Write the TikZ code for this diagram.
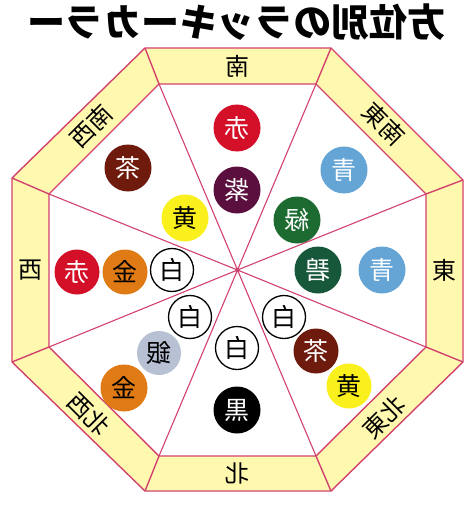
\documentclass[tikz,border=0pt]{standalone}
\usepackage{graphicx}
\usepackage{fontspec}
\newfontfamily\cjk{Noto Sans CJK JP}
\newcommand{\mirr}[1]{\reflectbox{#1}}
\definecolor{bandy}{HTML}{FFF9B0}
\definecolor{edgec}{HTML}{D2426E}
\definecolor{cred}{HTML}{D40F28}
\definecolor{cpurple}{HTML}{5B0F3F}
\definecolor{cbrown}{HTML}{6E1A0C}
\definecolor{cyellow}{HTML}{FAF01E}
\definecolor{cblue}{HTML}{64A5D6}
\definecolor{cgreen}{HTML}{1E6B32}
\definecolor{cdgreen}{HTML}{17573A}
\definecolor{corange}{HTML}{E07A14}
\definecolor{csilver}{HTML}{B8C0D4}
\begin{document}
\begin{tikzpicture}[x=1pt,y=-1pt,
  edge/.style={draw=edgec, line width=1.4pt, line join=round},
  ray/.style={draw=edgec, line width=1.1pt},
  ball/.style={circle, minimum size=47pt, inner sep=0pt, font=\cjk\fontsize{25}{25}\selectfont},
  wball/.style={ball, minimum size=43pt, draw=black, line width=1.3pt, fill=white, text=black},
  dirlab/.style={font=\cjk\fontsize{24}{24}\selectfont, inner sep=0pt}]
\useasboundingbox (0,0) rectangle (474,508);
% outer octagon
\coordinate (O1) at (145,48);
\coordinate (O2) at (331,48);
\coordinate (O3) at (463,180);
\coordinate (O4) at (463,362);
\coordinate (O5) at (331,491);
\coordinate (O6) at (145,491);
\coordinate (O7) at (12,362);
\coordinate (O8) at (12,178);
% inner octagon
\coordinate (I1) at (159,84);
\coordinate (I2) at (316,84);
\coordinate (I3) at (426,194);
\coordinate (I4) at (426,347);
\coordinate (I5) at (316,456);
\coordinate (I6) at (159,456);
\coordinate (I7) at (49,347);
\coordinate (I8) at (49,194);
\coordinate (C) at (237.5,270);
\fill[bandy] (O1)--(O2)--(O3)--(O4)--(O5)--(O6)--(O7)--(O8)--cycle;
\fill[white] (I1)--(I2)--(I3)--(I4)--(I5)--(I6)--(I7)--(I8)--cycle;
\foreach \i in {1,...,8} {\draw[ray] (C)--(I\i);}
\foreach \i in {1,...,8} {\draw[edge] (O\i)--(I\i);}
\draw[edge] (O1)--(O2)--(O3)--(O4)--(O5)--(O6)--(O7)--(O8)--cycle;
\draw[edge] (I1)--(I2)--(I3)--(I4)--(I5)--(I6)--(I7)--(I8)--cycle;
\fill[edgec] (C) circle (2.2pt);
% title
\node (title) at (236,22) {\cjk\bfseries\fontsize{38}{38}\selectfont\mirr{方位別のラッキーカラー}};
% direction labels
\node[dirlab] (s) at (237,66) {\mirr{南}};
\node[dirlab] (n) at (237,473) {\mirr{北}};
\node[dirlab] (w) at (30,270) {\mirr{西}};
\node[dirlab] (e) at (444,270) {\mirr{東}};
\node[dirlab, rotate=45] (sw) at (91,126) {\mirr{南西}};
\node[dirlab, rotate=-45] (se) at (384,124) {\mirr{南東}};
\node[dirlab, rotate=-45] (nw) at (89,414) {\mirr{北西}};
\node[dirlab, rotate=45] (ne) at (384,417) {\mirr{北東}};
% colour balls
\node[ball, fill=cred, text=white] (b1) at (237,128) {\mirr{赤}};
\node[ball, fill=cpurple, text=white] (b2) at (237,190) {\mirr{紫}};
\node[ball, fill=cbrown, text=white] (b3) at (128,168) {\mirr{茶}};
\node[ball, fill=cyellow, text=black] (b4) at (185,218) {\mirr{黄}};
\node[ball, fill=cblue, text=white] (b5) at (344,170) {\mirr{青}};
\node[ball, fill=cgreen, text=white] (b6) at (297,220) {\mirr{緑}};
\node[ball, fill=cdgreen, text=white] (b7) at (318,270) {\mirr{碧}};
\node[ball, fill=cblue, text=white] (b8) at (382,270) {\mirr{青}};
\node[ball, minimum size=45pt, fill=cred, text=white] (b9) at (77,272) {\mirr{赤}};
\node[ball, minimum size=45pt, fill=corange, text=black] (b10) at (125,272) {\mirr{金}};
\node[wball] (w1) at (172,270) {\mirr{白}};
\node[wball] (w2) at (190,317) {\mirr{白}};
\node[wball] (w3) at (237,348) {\mirr{白}};
\node[wball] (w4) at (284,317) {\mirr{白}};
\node[ball, minimum size=44pt, fill=csilver, text=black] (b11) at (159,353) {\mirr{銀}};
\node[ball, fill=corange, text=black] (b12) at (124,388) {\mirr{金}};
\node[ball, fill=black, text=white] (b13) at (237,410) {\mirr{黒}};
\node[ball, minimum size=45pt, fill=cbrown, text=white] (b14) at (316,351) {\mirr{茶}};
\node[ball, minimum size=45pt, fill=cyellow, text=black] (b15) at (349,386) {\mirr{黄}};
\end{tikzpicture}
\end{document}
